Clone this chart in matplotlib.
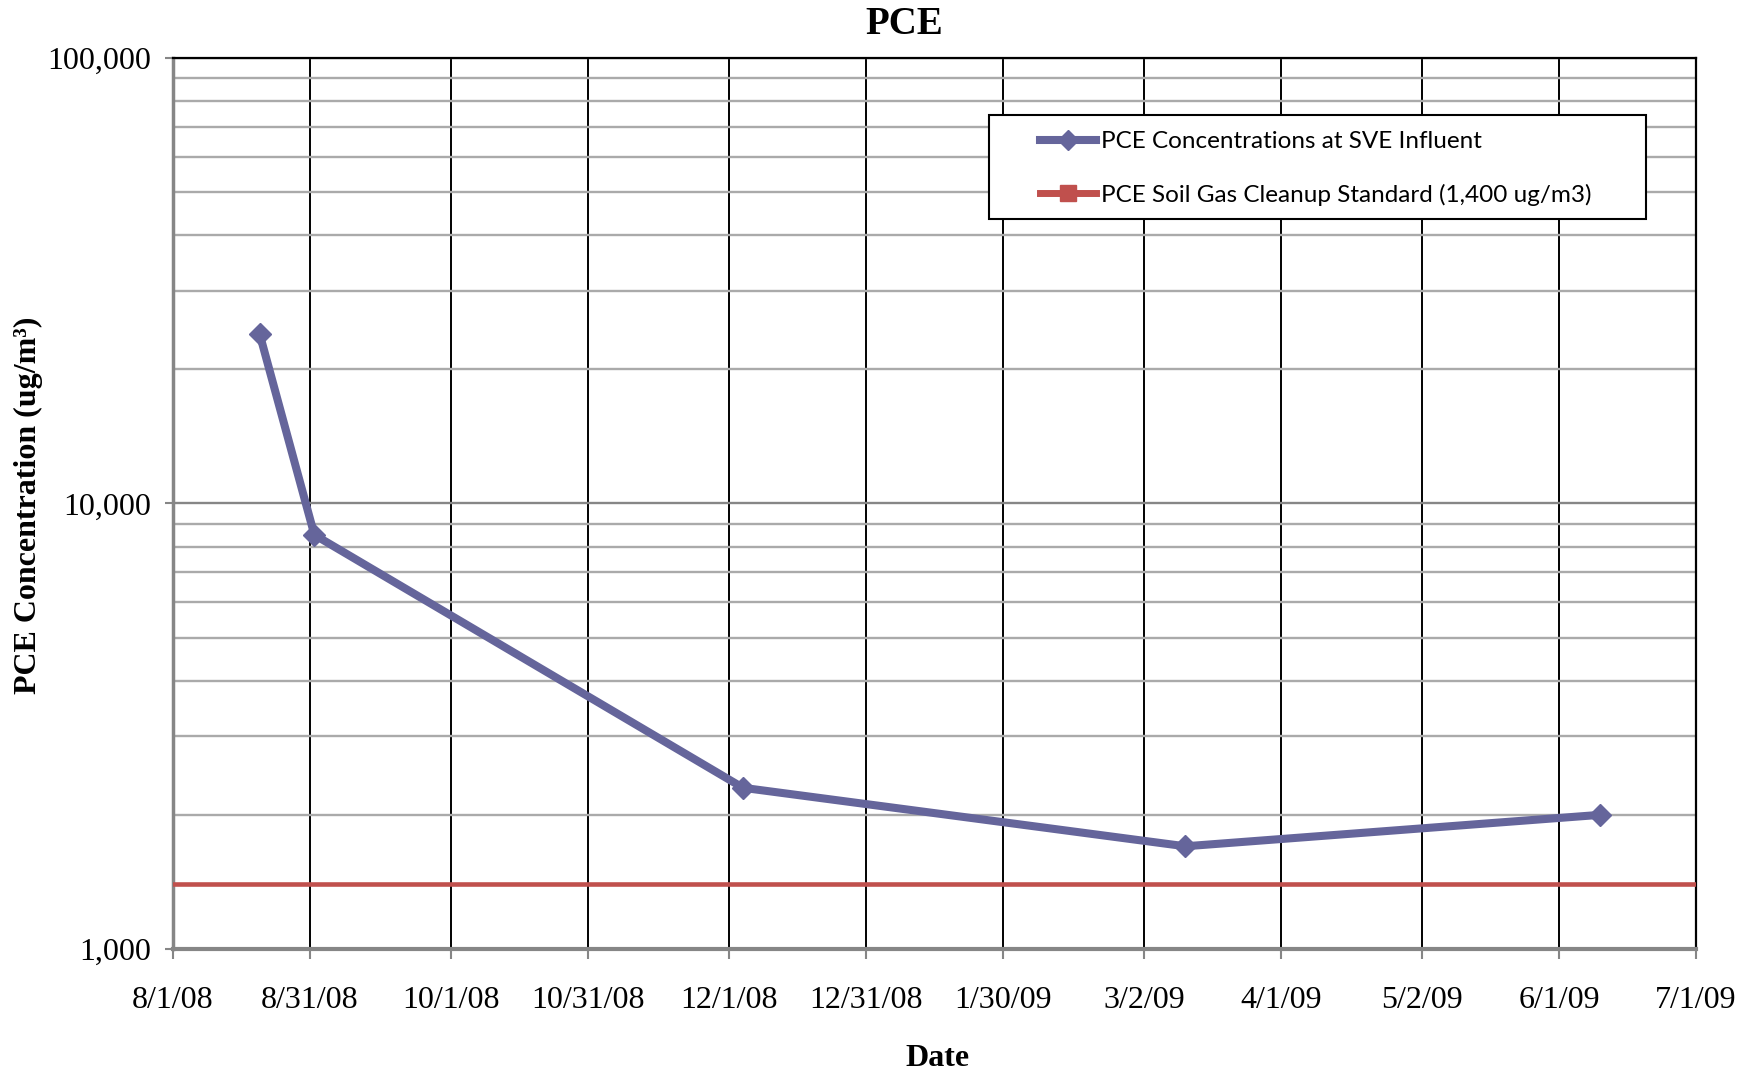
import matplotlib
matplotlib.use("Agg")
import matplotlib.pyplot as plt
import pandas as pd
from matplotlib.lines import Line2D
from matplotlib.patches import Rectangle
from matplotlib.ticker import LogLocator, NullFormatter

# SVE influent sampling results
sample_dates = ["2008-08-20", "2008-09-01", "2008-12-04", "2009-03-11", "2009-06-10"]
pce_influent = [24000, 8500, 2300, 1700, 2000]
cleanup_standard = 1400

date_ticks = ["8/1/08", "8/31/08", "10/1/08", "10/31/08", "12/1/08", "12/31/08",
              "1/30/09", "3/2/09", "4/1/09", "5/2/09", "6/1/09", "7/1/09"]
conc_ticks = [1000, 10000, 100000]
conc_labels = ["1,000", "10,000", "100,000"]

series_labels = ["PCE Concentrations at SVE Influent",
                 "PCE Soil Gas Cleanup Standard (1,400 ug/m3)"]

BLUE = "#65659B"
RED = "#C0504D"
AXIS_GRAY = "#868686"

plt.rcParams["font.family"] = ["Liberation Serif", "DejaVu Serif"]

fig = plt.figure(figsize=(17.53, 10.77), dpi=100)
ax = fig.add_axes([0.0987, 0.1189, 0.8688, 0.8273])

tick_dates = pd.to_datetime(date_ticks, format="%m/%d/%y")
x = pd.to_datetime(sample_dates)

ax.plot(x, pce_influent, color=BLUE, lw=5.8, marker="D", ms=11, zorder=4)
ax.plot([tick_dates[0], tick_dates[-1]], [cleanup_standard] * 2,
        color=RED, lw=3.3, zorder=3)

ax.set_yscale("log")
ax.set_ylim(conc_ticks[0], conc_ticks[-1])
ax.set_xlim(tick_dates[0], tick_dates[-1])
ax.set_xticks(tick_dates)
ax.set_xticklabels(date_ticks)
ax.set_yticks(conc_ticks)
ax.set_yticklabels(conc_labels)
ax.yaxis.set_minor_locator(LogLocator(base=10, subs=range(2, 10)))
ax.yaxis.set_minor_formatter(NullFormatter())

ax.set_axisbelow(True)
ax.grid(axis="x", which="major", color="black", lw=1.4)
ax.grid(axis="y", which="minor", color="#aaaaaa", lw=1.7)
ax.grid(axis="y", which="major", color=AXIS_GRAY, lw=1.7)

ax.tick_params(axis="y", which="minor", length=0)
ax.tick_params(axis="x", which="major", direction="out", color=AXIS_GRAY,
               width=1.5, length=7, labelsize=23, pad=20)
ax.tick_params(axis="y", which="major", direction="out", color=AXIS_GRAY,
               width=1.5, length=6, labelsize=23, pad=10)

ax.spines["left"].set_color(AXIS_GRAY)
ax.spines["left"].set_linewidth(2.5)
ax.spines["bottom"].set_color(AXIS_GRAY)
ax.spines["bottom"].set_linewidth(3)
ax.spines["top"].set_color("black")
ax.spines["top"].set_linewidth(1.6)
ax.spines["right"].set_color("black")
ax.spines["right"].set_linewidth(1.6)

fig.text(904 / 1753, 1 - 25 / 1077, "PCE", ha="center", va="center",
         fontsize=28, fontweight="bold")
fig.text(937 / 1753, 1 - 1058 / 1077, "Date", ha="center", va="center",
         fontsize=23, fontweight="bold")
fig.text(28 / 1753, 1 - 505 / 1077, "PCE Concentration (ug/m³)", ha="center",
         va="center", rotation=90, fontsize=23, fontweight="bold")

# legend box
fig.add_artist(Rectangle((989 / 1753, 1 - 219 / 1077), 657 / 1753, 104 / 1077,
                         transform=fig.transFigure, facecolor="white",
                         edgecolor="black", lw=1.5, zorder=4))
handles = [Line2D([], [], color=BLUE, lw=5.8, marker="D", ms=10),
           Line2D([], [], color=RED, lw=5.0, marker="s", ms=11)]
leg = fig.legend(handles, series_labels, loc="upper left",
                 bbox_to_anchor=(1040 / 1753, 1 - 131 / 1077),
                 frameon=False, borderpad=0, borderaxespad=0,
                 handlelength=2.3, handletextpad=0.2, labelspacing=1.31,
                 prop={"family": "Lato", "size": 17.5})
leg.set_zorder(6)

fig.savefig("out.png", dpi=100, facecolor="white")
